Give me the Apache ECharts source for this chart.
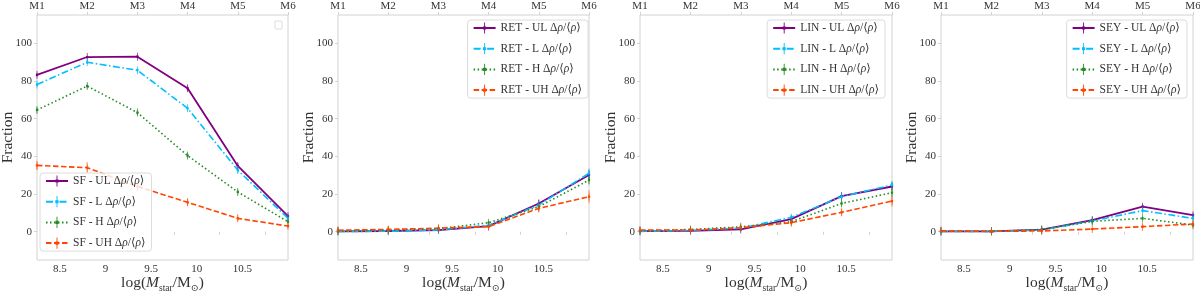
<!DOCTYPE html>
<html><head><meta charset="utf-8">
<script src="https://cdn.jsdelivr.net/npm/echarts@6/dist/echarts.min.js"></script>
<style>html,body{margin:0;padding:0;background:#fff}#c{width:1200px;height:293px}</style>
</head><body><div id="c"></div>
<script>
// ---- data ----
const massBins = [8.25, 8.8, 9.35, 9.9, 10.45, 11.0];
const topLabels = ['M1', 'M2', 'M3', 'M4', 'M5', 'M6'];
const xTickLabels = [8.5, 9, 9.5, 10, 10.5];
const xMinorTicks = [9.25, 9.75, 10.25, 10.75];
const yTickLabels = [0, 20, 40, 60, 80, 100];
const classes = ['SF', 'RET', 'LIN', 'SEY'];
const densityBins = ['UL', 'L', 'H', 'UH'];

const sfUL = [83.2, 92.7, 92.9, 76.1, 34.9, 8.3];
const sfL  = [78.1, 89.9, 85.7, 65.5, 32.7, 7.1];
const sfH  = [64.6, 77.3, 63.2, 40.4, 21.1, 5.3];
const sfUH = [35.2, 34.0, 24.0, 15.6, 7.1, 3.0];
const retUL = [0.2, 0.4, 0.9, 3.0, 15.0, 30.1];
const retL  = [0.1, 0.3, 0.9, 3.4, 14.2, 31.0];
const retH  = [0.2, 0.9, 1.6, 4.8, 13.3, 27.4];
const retUH = [0.8, 1.2, 1.9, 2.7, 12.4, 18.6];
const linUL = [0.3, 0.5, 1.2, 6.7, 18.9, 24.0];
const linL  = [0.2, 0.7, 1.9, 7.6, 18.6, 24.8];
const linH  = [0.5, 1.2, 2.6, 5.3, 15.0, 20.7];
const linUH = [0.9, 0.9, 2.1, 4.8, 10.3, 16.3];
const seyUL = [0.2, 0.2, 1.1, 6.2, 13.3, 8.8];
const seyL  = [0.1, 0.2, 0.9, 5.7, 11.2, 7.1];
const seyH  = [0.3, 0.2, 1.2, 5.5, 7.1, 3.5];
const seyUH = [0.5, 0.2, 0.4, 1.4, 2.7, 4.1];

const sfULErr = [1.0, 0.8, 0.8, 1.3, 1.6, 1.2];
const sfLErr  = [1.2, 0.9, 1.0, 1.5, 1.8, 1.3];
const sfHErr  = [1.5, 1.4, 1.5, 1.6, 1.5, 1.0];
const sfUHErr = [2.4, 3.0, 2.2, 2.0, 1.5, 0.9];
const retULErr = [0.2, 0.3, 0.5, 1.0, 2.0, 2.5];
const retLErr  = [0.2, 0.3, 0.5, 1.0, 2.0, 2.5];
const retHErr  = [0.3, 0.5, 0.6, 1.0, 2.0, 2.5];
const retUHErr = [0.5, 0.6, 0.7, 1.0, 2.2, 3.5];
const linULErr = [0.2, 0.3, 0.5, 1.0, 1.5, 2.0];
const linLErr  = [0.2, 0.3, 0.5, 1.0, 1.5, 2.0];
const linHErr  = [0.3, 0.4, 0.6, 1.0, 1.6, 2.2];
const linUHErr = [0.4, 0.5, 0.6, 1.0, 1.8, 3.0];
const seyULErr = [0.2, 0.2, 0.4, 0.8, 1.2, 1.3];
const seyLErr  = [0.2, 0.2, 0.4, 0.8, 1.2, 1.3];
const seyHErr  = [0.2, 0.2, 0.4, 0.8, 1.0, 1.0];
const seyUHErr = [0.3, 0.2, 0.3, 0.5, 0.8, 1.2];

const panelValues = [[sfUL, sfL, sfH, sfUH], [retUL, retL, retH, retUH], [linUL, linL, linH, linUH], [seyUL, seyL, seyH, seyUH]];
const panelErrors = [[sfULErr, sfLErr, sfHErr, sfUHErr], [retULErr, retLErr, retHErr, retUHErr], [linULErr, linLErr, linHErr, linUHErr], [seyULErr, seyLErr, seyHErr, seyUHErr]];

// ---- styles ----
const FONT = '"Liberation Serif", "DejaVu Serif", serif';
const TXT = '#333';
const colors = ['#800080', '#00bfff', '#228b22', '#ff4500'];
const dashes = ['solid', [7, 2.5, 1.5, 2.5], [1.5, 2.5], [5.5, 2.5]];
const widths = [1.8, 1.6, 1.6, 1.6];
const FRAME = '#d2d2d2';
// thin vertical bar with a small dot; tiny corner squares keep the bounding box square
const markerPath = 'path://M0,0h0.01v0.01h-0.01Z M9.99,9.99h0.01v0.01h-0.01Z M4.6,0H5.4V10H4.6Z M3.6,3.6H6.4V6.4H3.6Z';

const gridLefts = [37, 338, 640, 941];
const gridWidths = [251, 251, 252, 252];

const grids = [], xAxes = [], yAxes = [], series = [], legends = [];
classes.forEach((cls, i) => {
  grids.push({ left: gridLefts[i], top: 15, width: gridWidths[i], height: 245, show: true, borderColor: FRAME, borderWidth: 1, containLabel: false, outerBoundsMode: 'none' });
  xAxes.push({
    type: 'value', gridIndex: i, position: 'bottom', min: 8.25, max: 11.0,
    axisLine: { show: false }, splitLine: { show: false },
    axisTick: { show: true, customValues: xMinorTicks, length: 3, inside: false, lineStyle: { color: FRAME } },
    axisLabel: { customValues: xTickLabels, fontFamily: FONT, fontSize: 11, color: TXT, margin: 4 },
    name: '{a|log(}{i|M}{s|star}{a|/M}{s|⊙}{a|)}', nameLocation: 'middle', nameGap: 13, nameMoveOverlap: false,
    nameTextStyle: { rich: {
      a: { fontFamily: FONT, fontSize: 15.5, color: TXT, lineHeight: 20 },
      i: { fontFamily: FONT, fontSize: 15.5, color: TXT, fontStyle: 'italic', lineHeight: 20 },
      s: { fontFamily: FONT, fontSize: 9.5, color: TXT, lineHeight: 10, verticalAlign: 'bottom' }
    } }
  });
  xAxes.push({
    type: 'category', gridIndex: i, position: 'top', data: topLabels, boundaryGap: false,
    axisLine: { show: false }, splitLine: { show: false },
    axisTick: { show: true, length: 3, lineStyle: { color: FRAME } },
    axisLabel: { fontFamily: FONT, fontSize: 11, color: TXT, margin: 3, interval: 0 }
  });
  yAxes.push({
    type: 'value', gridIndex: i, min: -15, max: 115,
    axisLine: { show: false }, splitLine: { show: false },
    axisTick: { show: true, customValues: yTickLabels, length: 3, lineStyle: { color: FRAME } },
    axisLabel: { customValues: yTickLabels, fontFamily: FONT, fontSize: 11, color: TXT, margin: 5 },
    name: 'Fraction', nameLocation: 'middle', nameGap: 21, nameMoveOverlap: false,
    nameTextStyle: { fontFamily: FONT, fontSize: 15.5, color: TXT }
  });
  const names = [];
  densityBins.forEach((lvl, j) => {
    const nm = cls + ' - ' + lvl;
    names.push(nm);
    const vals = panelValues[i][j];
    const errs = panelErrors[i][j];
    series.push({
      type: 'custom', name: nm + ' err', xAxisIndex: 2 * i, yAxisIndex: i, silent: true, z: 2,
      data: massBins.map((x, k) => [x, vals[k], errs[k]]),
      encode: { x: 0, y: 1 },
      renderItem: (params, api) => {
        const x = api.value(0), y = api.value(1), e = api.value(2);
        const p1 = api.coord([x, y - e]), p2 = api.coord([x, y + e]);
        return { type: 'line', shape: { x1: p1[0], y1: p1[1], x2: p2[0], y2: p2[1] },
                 style: { stroke: colors[j], lineWidth: 1.3, opacity: 0.4 } };
      }
    });
    series.push({
      type: 'line', name: nm, xAxisIndex: 2 * i, yAxisIndex: i, z: 2,
      data: massBins.map((x, k) => [x, vals[k]]),
      symbol: markerPath, symbolSize: 8, showSymbol: true, symbolKeepAspect: true,
      itemStyle: { color: colors[j] },
      lineStyle: { color: colors[j], width: widths[j], type: dashes[j] },
      clip: false, animation: false
    });
  });
  const lg = {
    data: names, orient: 'vertical', itemWidth: 22, itemHeight: 14, itemGap: 8.7,
    padding: [2, 6, 2, 5], borderColor: '#dcdcdc', borderWidth: 1, borderRadius: 3,
    backgroundColor: 'rgba(255,255,255,0.8)', selectedMode: false, z: 20,
    formatter: n => '{t|' + n + ' Δ}{g|ρ}{t|/⟨}{g|ρ}{t|⟩}',
    textStyle: { rich: {
      t: { fontFamily: FONT, fontSize: 11.5, color: TXT, lineHeight: 14 },
      g: { fontFamily: FONT, fontSize: 11.5, color: TXT, fontStyle: 'italic', lineHeight: 14 }
    } }
  };
  if (i === 0) { lg.left = 40; lg.top = 173; }
  else { lg.right = [0, 612, 315, 13][i]; lg.top = 20; }
  legends.push(lg);
});

const chart = echarts.init(document.getElementById('c'), null, { renderer: 'canvas' });
chart.setOption({
  animation: false,
  backgroundColor: '#fff',
  grid: grids, xAxis: xAxes, yAxis: yAxes, series: series, legend: legends,
  graphic: [{ type: 'rect', shape: { x: 275, y: 21, width: 7, height: 8, r: 1 }, style: { fill: '#fff', stroke: '#dcdcdc', lineWidth: 1 } }]
});
</script></body></html>
